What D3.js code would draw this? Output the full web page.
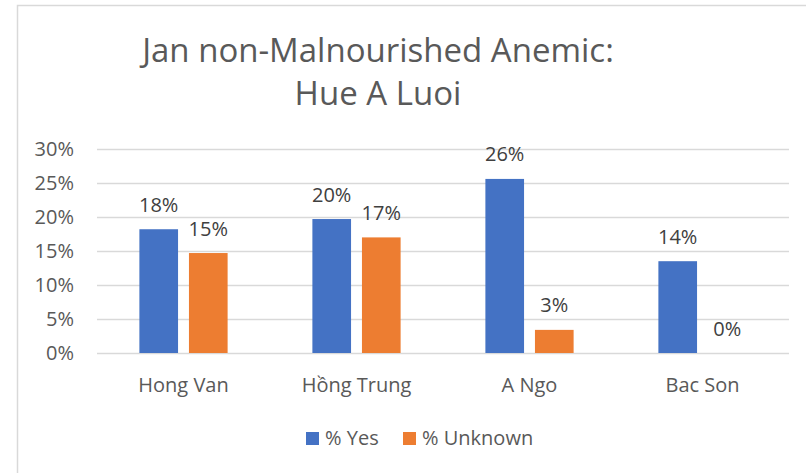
<!DOCTYPE html>
<html><head><meta charset="utf-8">
<script src="https://cdn.jsdelivr.net/npm/d3@7"></script>
<style>body{margin:0;background:#fff}svg{display:block}text{font-family:"Open Sans",sans-serif}</style>
</head><body>
<svg id="c" width="806" height="473"></svg>
<script>
const categories = ["Hong Van", "Hồng Trung", "A Ngo", "Bac Son"];
const seriesNames = ["% Yes", "% Unknown"];
const yesValues = [0.182, 0.197, 0.256, 0.135];
const unknownValues = [0.147, 0.170, 0.034, 0.0];
const yTicks = [0, 0.05, 0.10, 0.15, 0.20, 0.25, 0.30];
const colors = ["#4472C4", "#ED7D31"];
const titleLines = ["Jan non-Malnourished Anemic:", "Hue A Luoi"];

const svg = d3.select("#c");
svg.append("rect").attr("x",17.5).attr("y",5.5).attr("width",800).attr("height",480)
  .attr("fill","#fff").attr("stroke","#d9d9d9").attr("stroke-width",1.5);

const m = {left:97, right:789, top:149, bottom:353};
const x0 = d3.scaleBand().domain(categories).range([m.left, m.right]);
const bw = x0.bandwidth();
const x1 = d3.scaleBand().domain(seriesNames).range([bw*0.245, bw*0.755]).paddingInner(0.22);
const y = d3.scaleLinear().domain([0, 0.30]).range([m.bottom, m.top]);

const fmt = d3.format(".0%");
const yAxis = d3.axisLeft(y).tickValues(yTicks).tickFormat(fmt).tickSize(-(m.right-m.left)).tickPadding(23);
const gy = svg.append("g").attr("transform",`translate(${m.left},0)`).call(yAxis);
gy.select(".domain").remove();
gy.selectAll(".tick line").attr("stroke","#d9d9d9").attr("stroke-width",1.5);
gy.selectAll(".tick text").attr("fill","#595959").style("font-size","20px").attr("font-family","Open Sans");

const xAxis = d3.axisBottom(x0).tickSize(0).tickPadding(25);
const gx = svg.append("g").attr("transform",`translate(0,${m.bottom})`).call(xAxis);
gx.select(".domain").remove();
gx.selectAll(".tick text").attr("fill","#595959").style("font-size","20px").attr("font-family","Open Sans");

const data = categories.map((c,i)=>({cat:c, vals:[{s:seriesNames[0],v:yesValues[i]},{s:seriesNames[1],v:unknownValues[i]}]}));
const groups = svg.append("g").selectAll("g").data(data).join("g")
  .attr("transform", d=>`translate(${x0(d.cat)},0)`);
groups.selectAll("rect").data(d=>d.vals).join("rect")
  .attr("x", d=>x1(d.s)).attr("width", x1.bandwidth())
  .attr("y", d=>y(d.v)).attr("height", d=>y(0)-y(d.v))
  .attr("fill", (d,i)=>colors[i]);
groups.selectAll("text.lbl").data(d=>d.vals).join("text").attr("class","lbl")
  .attr("x", d=>x1(d.s)+x1.bandwidth()/2).attr("y", d=>y(d.v)-17.5)
  .attr("text-anchor","middle").attr("fill","#404040").style("font-size","20px")
  .text(d=>fmt(d.v));

svg.append("g").selectAll("text").data(titleLines).join("text")
  .attr("x", 378).attr("y",(d,i)=>62+i*43).attr("text-anchor","middle")
  .attr("fill","#595959").style("font-size","33px").text(d=>d);

const leg = svg.append("g").attr("transform","translate(306,432)");
const items = leg.selectAll("g").data(seriesNames).join("g")
  .attr("transform",(d,i)=>`translate(${i===0?0:97},0)`);
items.append("rect").attr("width",13).attr("height",13).attr("fill",(d,i)=>colors[i]);
items.append("text").attr("x",19).attr("y",13).attr("fill","#595959").style("font-size","20px").text(d=>d);
</script>
</body></html>
